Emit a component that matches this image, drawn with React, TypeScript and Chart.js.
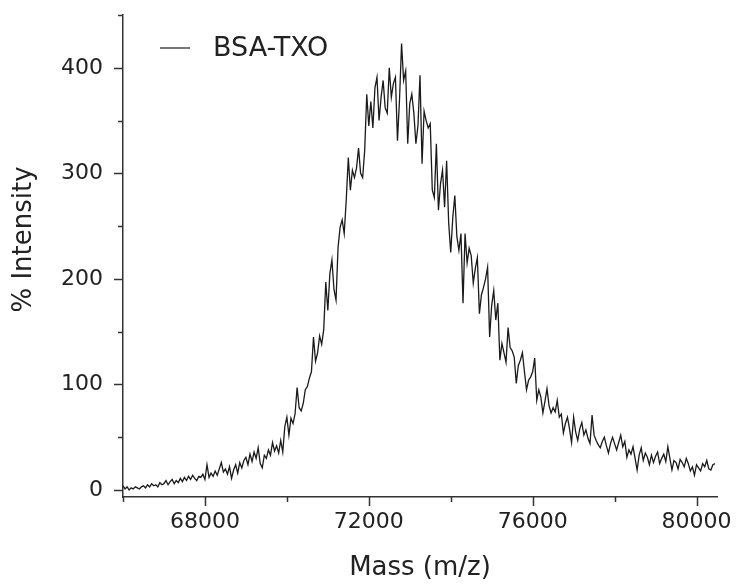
import { useEffect, useRef } from "react";
import { Chart, registerables } from "chart.js";

Chart.register(...registerables);

// Mass axis (m/z) sampling points
const MASS = [
  66000, 66050, 66100, 66150, 66200, 66250, 66300, 66350, 66400, 66450,
  66500, 66550, 66600, 66650, 66700, 66750, 66800, 66850, 66900, 66950,
  67000, 67050, 67100, 67150, 67200, 67250, 67300, 67350, 67400, 67450,
  67500, 67550, 67600, 67650, 67700, 67750, 67800, 67850, 67900, 67950,
  68000, 68050, 68100, 68150, 68200, 68250, 68300, 68350, 68400, 68450,
  68500, 68550, 68600, 68650, 68700, 68750, 68800, 68850, 68900, 68950,
  69000, 69050, 69100, 69150, 69200, 69250, 69300, 69350, 69400, 69450,
  69500, 69550, 69600, 69650, 69700, 69750, 69800, 69850, 69900, 69950,
  70000, 70050, 70100, 70150, 70200, 70250, 70300, 70350, 70400, 70450,
  70500, 70550, 70600, 70650, 70700, 70750, 70800, 70850, 70900, 70950,
  71000, 71050, 71100, 71150, 71200, 71250, 71300, 71350, 71400, 71450,
  71500, 71550, 71600, 71650, 71700, 71750, 71800, 71850, 71900, 71950,
  72000, 72050, 72100, 72150, 72200, 72250, 72300, 72350, 72400, 72450,
  72500, 72550, 72600, 72650, 72700, 72750, 72800, 72850, 72900, 72950,
  73000, 73050, 73100, 73150, 73200, 73250, 73300, 73350, 73400, 73450,
  73500, 73550, 73600, 73650, 73700, 73750, 73800, 73850, 73900, 73950,
  74000, 74050, 74100, 74150, 74200, 74250, 74300, 74350, 74400, 74450,
  74500, 74550, 74600, 74650, 74700, 74750, 74800, 74850, 74900, 74950,
  75000, 75050, 75100, 75150, 75200, 75250, 75300, 75350, 75400, 75450,
  75500, 75550, 75600, 75650, 75700, 75750, 75800, 75850, 75900, 75950,
  76000, 76050, 76100, 76150, 76200, 76250, 76300, 76350, 76400, 76450,
  76500, 76550, 76600, 76650, 76700, 76750, 76800, 76850, 76900, 76950,
  77000, 77050, 77100, 77150, 77200, 77250, 77300, 77350, 77400, 77450,
  77500, 77550, 77600, 77650, 77700, 77750, 77800, 77850, 77900, 77950,
  78000, 78050, 78100, 78150, 78200, 78250, 78300, 78350, 78400, 78450,
  78500, 78550, 78600, 78650, 78700, 78750, 78800, 78850, 78900, 78950,
  79000, 79050, 79100, 79150, 79200, 79250, 79300, 79350, 79400, 79450,
  79500, 79550, 79600, 79650, 79700, 79750, 79800, 79850, 79900, 79950,
  80000, 80050, 80100, 80150, 80200, 80250, 80300, 80350, 80400, 80450,
];

// % Intensity
const INTENSITY = [
  4, 1, 3, 0, 2, 1, 3, 2, 1, 3,
  4, 2, 5, 3, 6, 4, 5, 3, 7, 5,
  6, 9, 5, 8, 10, 6, 9, 7, 11, 8,
  12, 9, 13, 10, 14, 11, 9, 13, 12, 15,
  10, 24, 12, 16, 13, 18, 14, 20, 26, 17,
  20, 15, 22, 11, 19, 24, 16, 26, 21, 28,
  31, 24, 34, 27, 36, 30, 40, 25, 21, 33,
  30, 38, 33, 45, 37, 42, 35, 47, 36, 60,
  69, 52, 68, 63, 72, 97, 78, 75, 82, 95,
  98, 106, 112, 145, 122, 130, 146, 138, 152, 197,
  170, 205, 218, 190, 180, 230, 249, 256, 243, 275,
  315, 284, 303, 296, 305, 324, 300, 296, 322, 375,
  345, 368, 343, 381, 391, 350, 372, 388, 362, 357,
  400, 372, 385, 391, 331, 370, 423, 388, 397, 328,
  366, 375, 357, 328, 345, 393, 309, 359, 350, 343,
  347, 284, 277, 328, 265, 290, 303, 268, 312, 253,
  225, 258, 279, 240, 227, 243, 177, 243, 215, 229,
  222, 196, 210, 220, 167, 185, 192, 200, 211, 145,
  175, 189, 161, 177, 123, 139, 130, 121, 154, 135,
  132, 126, 101, 118, 123, 130, 112, 95, 104, 107,
  112, 125, 85, 95, 88, 73, 84, 96, 80, 73,
  78, 74, 85, 69, 72, 54, 63, 69, 58, 45,
  69, 55, 47, 58, 64, 52, 57, 49, 44, 71,
  52, 47, 43, 40, 46, 50, 42, 35, 44, 50,
  44, 38, 45, 52, 41, 46, 31, 38, 34, 41,
  30, 19, 33, 40, 28, 35, 31, 24, 33, 26,
  32, 36, 25, 30, 34, 27, 41, 30, 19, 28,
  26, 20, 29, 26, 22, 30, 25, 18, 22, 14,
  24, 21, 18, 25, 22, 28, 20, 19, 24, 25,
];

const SERIES_LABEL = "BSA-TXO";
const X_TITLE = "Mass (m/z)";
const Y_TITLE = "% Intensity";
const X_MAJOR = [68000, 72000, 76000, 80000];
const X_MINOR = [66000, 70000, 74000, 78000];
const Y_MAJOR = [0, 100, 200, 300, 400];
const Y_MINOR = [50, 150, 250, 350, 450];

const FONT = "'DejaVu Sans', sans-serif";
const INK = "#222222";

const tickMarks = {
  id: "tickMarks",
  afterDraw(chart: any) {
    const { ctx, chartArea, scales } = chart;
    const xs = scales.x;
    const ys = scales.y;
    ctx.save();
    ctx.strokeStyle = "#333333";
    ctx.lineWidth = 1.5;
    const drawY = (v: number, len: number) => {
      const p = Math.round(ys.getPixelForValue(v)) + 0.5;
      ctx.beginPath();
      ctx.moveTo(chartArea.left - len, p);
      ctx.lineTo(chartArea.left, p);
      ctx.stroke();
    };
    const drawX = (v: number, len: number) => {
      const p = Math.round(xs.getPixelForValue(v)) + 0.5;
      ctx.beginPath();
      ctx.moveTo(p, chartArea.bottom);
      ctx.lineTo(p, chartArea.bottom + len);
      ctx.stroke();
    };
    Y_MAJOR.forEach((v) => drawY(v, 9));
    Y_MINOR.forEach((v) => drawY(v, 5));
    X_MAJOR.forEach((v) => drawX(v, 9));
    X_MINOR.forEach((v) => drawX(v, 5));
    ctx.restore();
  },
};

const inlineLegend = {
  id: "inlineLegend",
  afterDraw(chart: any) {
    const { ctx, chartArea } = chart;
    const ds = chart.data.datasets[0];
    const y = chartArea.top + 33;
    const x0 = chartArea.left + 37;
    ctx.save();
    ctx.strokeStyle = ds.borderColor;
    ctx.lineWidth = 1.2;
    ctx.beginPath();
    ctx.moveTo(x0, y);
    ctx.lineTo(x0 + 30, y);
    ctx.stroke();
    ctx.fillStyle = INK;
    ctx.font = `27px ${FONT}`;
    ctx.textBaseline = "middle";
    ctx.textAlign = "left";
    ctx.fillText(ds.label, x0 + 53, y + 1);
    ctx.restore();
  },
};

export default function App() {
  const canvasRef = useRef<HTMLCanvasElement | null>(null);

  useEffect(() => {
    document.body.style.margin = "0";
    const canvas = canvasRef.current;
    if (!canvas) return;
    const points = MASS.map((m, i) => ({ x: m, y: INTENSITY[i] }));
    const chart = new Chart(canvas, {
      type: "line",
      data: {
        datasets: [
          {
            label: SERIES_LABEL,
            data: points,
            borderColor: "#1a1a1a",
            borderWidth: 1.3,
            pointRadius: 0,
            tension: 0,
            fill: false,
          },
        ],
      },
      options: {
        responsive: false,
        animation: false,
        devicePixelRatio: 1,
        layout: { padding: { top: 15, right: 19, left: 0, bottom: 0 } },
        plugins: {
          legend: { display: false },
          tooltip: { enabled: false },
        },
        scales: {
          x: {
            type: "linear",
            min: 66000,
            max: 80500,
            afterBuildTicks: (s: any) => {
              s.ticks = [...X_MINOR, ...X_MAJOR]
                .sort((a, b) => a - b)
                .map((v) => ({ value: v }));
            },
            afterFit: (s: any) => {
              s.height = 88;
              s.paddingLeft = 0;
              s.paddingRight = 0;
              s.paddingTop = 0;
              s.paddingBottom = 0;
            },
            grid: { display: false, drawTicks: false, tickLength: 0 },
            border: { display: true, color: "#333333", width: 1.5 },
            ticks: {
              color: INK,
              font: { family: FONT, size: 22 },
              padding: 12,
              maxRotation: 0,
              autoSkip: false,
              callback: (v: any) => (X_MAJOR.includes(Number(v)) ? String(v) : ""),
            },
            title: {
              display: true,
              text: X_TITLE,
              color: INK,
              font: { family: FONT, size: 26 },
              padding: { top: 0, bottom: 1 },
            },
          },
          y: {
            type: "linear",
            min: -6.6,
            max: 450,
            afterBuildTicks: (s: any) => {
              s.ticks = [...Y_MAJOR, ...Y_MINOR]
                .sort((a, b) => a - b)
                .map((v) => ({ value: v }));
            },
            afterFit: (s: any) => {
              s.width = 123;
              s.paddingLeft = 0;
              s.paddingRight = 0;
              s.paddingTop = 0;
              s.paddingBottom = 0;
            },
            grid: { display: false, drawTicks: false, tickLength: 0 },
            border: { display: true, color: "#333333", width: 1.5 },
            ticks: {
              color: INK,
              font: { family: FONT, size: 22 },
              padding: 20,
              autoSkip: false,
              callback: (v: any) => (Y_MAJOR.includes(Number(v)) ? String(v) : ""),
            },
            title: {
              display: true,
              text: "    " + Y_TITLE,
              color: INK,
              font: { family: FONT, size: 26 },
              padding: { top: 9, bottom: 0 },
            },
          },
        },
      },
      plugins: [tickMarks, inlineLegend],
    });
    return () => chart.destroy();
  }, []);

  return (
    <div style={{ width: 736, height: 585 }}>
      <canvas ref={canvasRef} width={736} height={585} style={{ display: "block" }} />
    </div>
  );
}
